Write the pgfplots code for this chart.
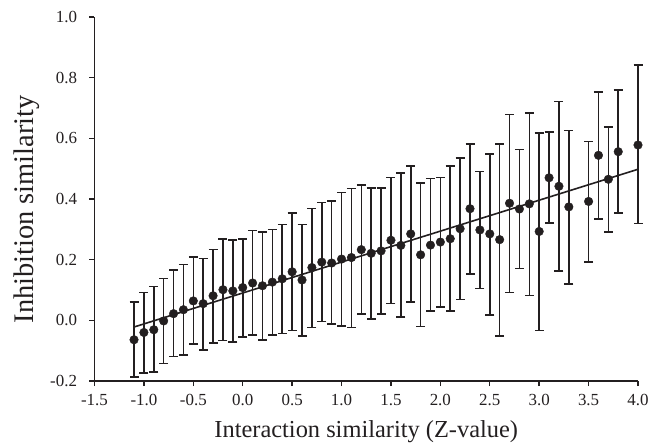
\documentclass[border=0pt]{standalone}
\usepackage{fontspec}
\setmainfont{Liberation Serif}
\usepackage{pgfplots}
\pgfplotsset{compat=1.18}
\usepackage{pgfplotstable}
\definecolor{ink}{HTML}{231F20}
\pgfplotstableread{
x y top bot
-1.1 -0.064 0.060 -0.187
-1.0 -0.040 0.092 -0.174
-0.9 -0.031 0.111 -0.171
-0.8 -0.002 0.138 -0.142
-0.7 0.022 0.166 -0.119
-0.6 0.035 0.184 -0.114
-0.5 0.064 0.208 -0.079
-0.4 0.055 0.204 -0.097
-0.3 0.081 0.233 -0.074
-0.2 0.101 0.268 -0.066
-0.1 0.097 0.264 -0.071
0.0 0.108 0.269 -0.055
0.1 0.123 0.296 -0.049
0.2 0.114 0.291 -0.065
0.3 0.126 0.300 -0.048
0.4 0.137 0.316 -0.043
0.5 0.160 0.353 -0.034
0.6 0.133 0.316 -0.051
0.7 0.174 0.369 -0.024
0.8 0.192 0.389 -0.004
0.9 0.189 0.393 -0.013
1.0 0.202 0.422 -0.018
1.1 0.207 0.435 -0.024
1.2 0.233 0.446 0.020
1.3 0.221 0.437 0.004
1.4 0.229 0.437 0.020
1.5 0.264 0.471 0.055
1.6 0.247 0.486 0.010
1.7 0.285 0.508 0.060
1.8 0.216 0.452 -0.020
1.9 0.248 0.468 0.030
2.0 0.258 0.471 0.043
2.1 0.269 0.508 0.030
2.2 0.302 0.535 0.069
2.3 0.368 0.582 0.152
2.4 0.298 0.490 0.105
2.5 0.285 0.549 0.018
2.6 0.266 0.582 -0.051
2.7 0.386 0.678 0.092
2.8 0.367 0.563 0.171
2.9 0.384 0.684 0.082
3.0 0.293 0.618 -0.033
3.1 0.470 0.620 0.320
3.2 0.442 0.721 0.162
3.3 0.374 0.626 0.119
3.5 0.392 0.590 0.192
3.6 0.544 0.753 0.334
3.7 0.465 0.638 0.292
3.8 0.556 0.760 0.353
4.0 0.578 0.841 0.319
}\data
\begin{document}
\begin{tikzpicture}
\begin{axis}[
  at={(0,0)}, anchor=south west,
  width=543.5bp, height=364bp, scale only axis,
  xmin=-1.5, xmax=4.0, ymin=-0.2, ymax=1.0,
  axis lines*=left,
  axis line style={line width=1.6bp, ink},
  tick align=outside, major tick length=5bp,
  tick style={line width=1.4bp, ink},
  xtick={-1.5,-1.0,-0.5,0,0.5,1.0,1.5,2.0,2.5,3.0,3.5,4.0},
  xticklabels={-1.5,-1.0,-0.5,0.0,0.5,1.0,1.5,2.0,2.5,3.0,3.5,4.0},
  ytick={-0.2,0,0.2,0.4,0.6,0.8,1.0},
  yticklabels={-0.2,0.0,0.2,0.4,0.6,0.8,1.0},
  ticklabel style={font=\fontsize{17}{17}\selectfont, text=ink},
  xticklabel style={yshift=-5bp},
  yticklabel style={xshift=-9bp},
  xlabel={Interaction similarity (Z-value)},
  ylabel={Inhibition similarity},
  xlabel style={font=\fontsize{24.5}{24.5}\selectfont, text=ink, at={(axis description cs:0.5,-0.156)}, anchor=base},
  ylabel style={font=\fontsize{28.5}{28.5}\selectfont, text=ink, at={(axis description cs:-0.112,0.472)}, anchor=base},
  clip=false,
]
\addplot[only marks, mark=*, mark size=4.3bp, ink, mark options={fill=ink, draw=ink},
  error bars/.cd, y dir=both, y explicit,
  error bar style={line width=1.6bp, ink},
  error mark options={rotate=90, mark size=4.5bp, line width=1.6bp, ink}]
  table[x=x, y=y, y error plus expr=\thisrow{top}-\thisrow{y}, y error minus expr=\thisrow{y}-\thisrow{bot}] {\data};
\addplot[ink, line width=1.6bp, no marks] coordinates {(-1.1,-0.022) (4.0,0.498)};
\end{axis}
\pgfresetboundingbox
\path[use as bounding box] (-94.5bp,-63bp) rectangle (553.5bp,381bp);
\end{tikzpicture}
\end{document}
